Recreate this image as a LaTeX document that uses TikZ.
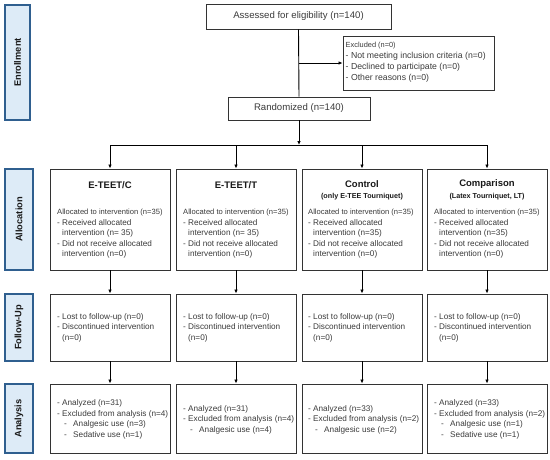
\documentclass[tikz,border=0pt]{standalone}
\usepackage{fontspec}
\setmainfont{Liberation Sans}
\usetikzlibrary{arrows.meta}
\definecolor{sidefill}{HTML}{DDEBF7}
\definecolor{sideline}{HTML}{2F5F8F}
\definecolor{txt}{HTML}{3A3A3A}
\begin{document}
\begin{tikzpicture}[x=1pt,y=-1pt,
  box/.style={draw=black!80, line width=0.9pt, inner sep=0pt},
  side/.style={draw=sideline, fill=sidefill, line width=1.4pt, inner sep=0pt},
  sidetxt/.style={rotate=90, font=\fontsize{9.3}{11}\selectfont\bfseries, text=black!90, inner sep=0pt},
  body/.style={font=\fontsize{8.2}{10.5}\selectfont, text=txt, align=left, inner sep=0pt},
  exbody/.style={font=\fontsize{8.7}{11}\selectfont, text=txt, align=left, inner sep=0pt},
  ttl/.style={font=\fontsize{9.5}{11}\selectfont\bfseries, text=black!90, inner sep=0pt},
  subttl/.style={font=\fontsize{7.2}{9}\selectfont\bfseries, text=black!90, inner sep=0pt},
  toptxt/.style={font=\fontsize{9.6}{11}\selectfont, text=txt},
  arr/.style={-{Latex[length=4pt,width=3.5pt]}, line width=0.9pt},
  ln/.style={line width=0.9pt}]
\useasboundingbox (0,0) rectangle (550,459);

% side labels
\node[side, minimum width=25pt, minimum height=115pt] (s1) at (17.5,62.5) {};
\node[sidetxt] (s1t) at (s1) {Enrollment};
\node[side, minimum width=28pt, minimum height=101pt] (s2) at (19,219.5) {};
\node[sidetxt] (s2t) at (s2) {Allocation};
\node[side, minimum width=28pt, minimum height=67pt] (s3) at (19,327.5) {};
\node[sidetxt] (s3t) at (s3) {Follow-Up};
\node[side, minimum width=28pt, minimum height=69pt] (s4) at (19,418.5) {};
\node[sidetxt] (s4t) at (s4) {Analysis};

% enrollment
\node[box, toptxt, minimum width=185pt, minimum height=25pt] (assess) at (298.5,16.5) {Assessed for eligibility (n=140)};
\node[box, minimum width=151pt, minimum height=54pt] (excl) at (418.5,63) {};
\node[exbody, anchor=west] (excltxt) at (345.5,62.5) {{\fontsize{7.4}{11}\selectfont Excluded (n=0)}\\- Not meeting inclusion criteria (n=0)\\- Declined to participate (n=0)\\- Other reasons (n=0)};
\node[box, toptxt, minimum width=142pt, minimum height=23pt] (rand) at (299,108.5) {Randomized (n=140)};
\draw[ln] (assess.south) -- (rand.north);
\coordinate (j) at (299,63);
\draw[arr] (j) -- (excl.west);
\coordinate (bm) at (299,145);
\draw[arr] (rand.south) -- (bm);

% columns
\foreach \i/\c in {1/110,2/236,3/362,4/487}{
  \node[box, minimum width=120pt, minimum height=101pt] (al\i) at (\c,219.5) {};
  \node[box, minimum width=120pt, minimum height=67pt] (fu\i) at (\c,327.5) {};
  \node[box, minimum width=120pt, minimum height=69pt] (an\i) at (\c,418.5) {};
  \coordinate (t\i) at (\c,145);
}
\draw[ln] (t1) -- (t4);
\foreach \i in {1,2,3,4}{
  \draw[arr] (t\i) -- (al\i.north);
  \draw[arr] (al\i.south) -- (fu\i.north);
  \draw[arr] (fu\i.south) -- (an\i.north);
}

% allocation texts
\node[ttl] (al1t) at (110,185) {E-TEET/C};
\node[ttl] (al2t) at (236,185) {E-TEET/T};
\node[ttl] (al3t) at (362,184) {Control};
\node[subttl] (al3s) at (362,196.5) {(only E-TEE Tourniquet)};
\node[ttl] (al4t) at (487,184) {Comparison};
\node[subttl] (al4s) at (487,196.5) {(Latex Tourniquet, LT)};

\node[body, anchor=north west] (al1b) at (57,209) {{\fontsize{7.6}{10.5}\selectfont Allocated to intervention (n=35)}\\- Received allocated\\\phantom{- }intervention (n= 35)\\- Did not receive allocated\\\phantom{- }intervention (n=0)};
\node[body, anchor=north west] (al2b) at (183,209) {{\fontsize{7.6}{10.5}\selectfont Allocated to intervention (n=35)}\\- Received allocated\\\phantom{- }intervention (n= 35)\\- Did not receive allocated\\\phantom{- }intervention (n=0)};
\node[body, anchor=north west] (al3b) at (308,209) {{\fontsize{7.6}{10.5}\selectfont Allocated to intervention (n=35)}\\- Received allocated\\\phantom{- }intervention (n=35)\\- Did not receive allocated\\\phantom{- }intervention (n=0)};
\node[body, anchor=north west] (al4b) at (434,209) {{\fontsize{7.6}{10.5}\selectfont Allocated to intervention (n=35)}\\- Received allocated\\\phantom{- }intervention (n=35)\\- Did not receive allocated\\\phantom{- }intervention (n=0)};

% follow-up texts
\node[body, anchor=west] (fu1b) at (57,327.5) {- Lost to follow-up (n=0)\\- Discontinued intervention\\\phantom{- }(n=0)};
\node[body, anchor=west] (fu2b) at (183,327.5) {- Lost to follow-up (n=0)\\- Discontinued intervention\\\phantom{- }(n=0)};
\node[body, anchor=west] (fu3b) at (308,327.5) {- Lost to follow-up (n=0)\\- Discontinued intervention\\\phantom{- }(n=0)};
\node[body, anchor=west] (fu4b) at (434,327.5) {- Lost to follow-up (n=0)\\- Discontinued intervention\\\phantom{- }(n=0)};

% analysis texts
\node[body, anchor=west] (an1b) at (57,419.5) {- Analyzed (n=31)\\- Excluded from analysis (n=4)\\\hspace*{7pt}-\hspace*{6.3pt}Analgesic use (n=3)\\\hspace*{7pt}-\hspace*{6.3pt}Sedative use (n=1)};
\node[body, anchor=west] (an2b) at (183,419.5) {- Analyzed (n=31)\\- Excluded from analysis (n=4)\\\hspace*{7pt}-\hspace*{6.3pt}Analgesic use (n=4)};
\node[body, anchor=west] (an3b) at (308,419.5) {- Analyzed (n=33)\\- Excluded from analysis (n=2)\\\hspace*{7pt}-\hspace*{6.3pt}Analgesic use (n=2)};
\node[body, anchor=west] (an4b) at (434,419.5) {- Analyzed (n=33)\\- Excluded from analysis (n=2)\\\hspace*{7pt}-\hspace*{6.3pt}Analgesic use (n=1)\\\hspace*{7pt}-\hspace*{6.3pt}Sedative use (n=1)};
\end{tikzpicture}
\end{document}
